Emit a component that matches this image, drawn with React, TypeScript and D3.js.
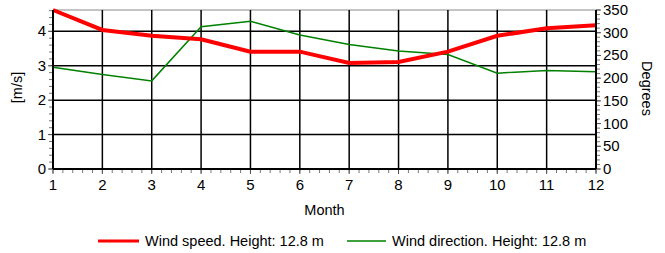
import * as d3 from "d3";

const months = [1, 2, 3, 4, 5, 6, 7, 8, 9, 10, 11, 12];
const windSpeed = [4.62, 4.04, 3.87, 3.77, 3.41, 3.41, 3.08, 3.11, 3.41, 3.87, 4.09, 4.18];
const windDirection = [224, 208, 194, 313, 325, 295, 274, 260, 252, 211, 217, 214];
const speedTicks = [0, 1, 2, 3, 4];
const dirTicks = [0, 50, 100, 150, 200, 250, 300, 350];
const speedLabel = "Wind speed. Height: 12.8 m";
const dirLabel = "Wind direction. Height: 12.8 m";

const W = 665;
const H = 253;
const left = 53;
const right = 596;
const top = 10;
const bottom = 169;
const font = "'Liberation Sans', Arial, sans-serif";

const App = () => {
  const x = d3.scaleLinear().domain([1, 12]).range([left, right]);
  const yL = d3.scaleLinear().domain([0, 4.62]).range([bottom, top]);
  const yR = d3.scaleLinear().domain([0, 350]).range([bottom, top]);

  const speedLine = d3
    .line<number>()
    .x((_, i) => x(months[i]))
    .y((d) => yL(d));
  const dirLine = d3
    .line<number>()
    .x((_, i) => x(months[i]))
    .y((d) => yR(d));

  const xMinor = d3.range(1, 12.001, 0.2);
  const yLMinor = d3.range(0, 4.62, 0.2);
  const yRMinor = d3.range(0, 350.001, 10);

  return (
    <svg
      width={W}
      height={H}
      style={{ position: "absolute", left: 0, top: 0 }}
      fontFamily={font}
    >
      <rect width={W} height={H} fill="white" />
      {/* grid */}
      <line x1={left} x2={right} y1={top} y2={top} stroke="#888" strokeWidth={1} />
      {speedTicks.slice(1).map((t) => (
        <line key={"gh" + t} x1={left} x2={right} y1={yL(t)} y2={yL(t)} stroke="#000" strokeWidth={1.5} />
      ))}
      {months.slice(1, -1).map((m) => (
        <line key={"gv" + m} x1={x(m)} x2={x(m)} y1={top} y2={bottom} stroke="#000" strokeWidth={1.5} />
      ))}

      {/* series */}
      <path d={dirLine(windDirection) || ""} fill="none" stroke="#008000" strokeWidth={1.5} />
      <path d={speedLine(windSpeed) || ""} fill="none" stroke="#ff0000" strokeWidth={4} />

      {/* bottom axis */}
      {xMinor.map((v, i) => (
        <line key={"xm" + i} x1={x(v)} x2={x(v)} y1={bottom} y2={bottom + 4} stroke="#777" strokeWidth={1} />
      ))}
      {months.map((m) => (
        <g key={"xt" + m}>
          <line x1={x(m)} x2={x(m)} y1={bottom} y2={bottom + 5} stroke="#555" strokeWidth={1} />
          <text x={x(m)} y={bottom + 21} textAnchor="middle" fontSize={15} fill="#000">
            {m}
          </text>
        </g>
      ))}
      <line x1={left} x2={right} y1={bottom} y2={bottom} stroke="#000" strokeWidth={2} />
      <text x={(left + right) / 2} y={215} textAnchor="middle" fontSize={14.5}>
        Month
      </text>

      {/* left axis */}
      {yLMinor.map((v, i) => (
        <line key={"ylm" + i} x1={left - 4} x2={left} y1={yL(v)} y2={yL(v)} stroke="#777" strokeWidth={1} />
      ))}
      {speedTicks.map((t) => (
        <g key={"ylt" + t}>
          <line x1={left - 5} x2={left} y1={yL(t)} y2={yL(t)} stroke="#555" strokeWidth={1} />
          <text x={left - 7} y={yL(t) + 5} textAnchor="end" fontSize={15}>
            {t}
          </text>
        </g>
      ))}
      <line x1={left} x2={left} y1={top} y2={bottom} stroke="#000" strokeWidth={2} />
      <text
        transform={`translate(22, ${(top + bottom) / 2 - 2}) rotate(-90)`}
        textAnchor="middle"
        fontSize={14.5}
      >
        [m/s]
      </text>

      {/* right axis */}
      {yRMinor.map((v, i) => (
        <line key={"yrm" + i} x1={right} x2={right + 4} y1={yR(v)} y2={yR(v)} stroke="#777" strokeWidth={1} />
      ))}
      {dirTicks.map((t) => (
        <g key={"yrt" + t}>
          <line x1={right} x2={right + 5} y1={yR(t)} y2={yR(t)} stroke="#555" strokeWidth={1} />
          <text x={right + 7} y={yR(t) + 5} textAnchor="start" fontSize={15}>
            {t}
          </text>
        </g>
      ))}
      <line x1={right} x2={right} y1={top} y2={bottom} stroke="#000" strokeWidth={2} />
      <text
        transform={`translate(642, ${(top + bottom) / 2 - 1}) rotate(90)`}
        textAnchor="middle"
        fontSize={14.5}
      >
        Degrees
      </text>

      {/* legend */}
      <line x1={98} x2={139} y1={241} y2={241} stroke="#ff0000" strokeWidth={3} />
      <text x={145} y={246} fontSize={14.5}>
        {speedLabel}
      </text>
      <line x1={347} x2={386} y1={241} y2={241} stroke="#008000" strokeWidth={1.5} />
      <text x={392} y={246} fontSize={14.5}>
        {dirLabel}
      </text>
    </svg>
  );
};

export default App;
